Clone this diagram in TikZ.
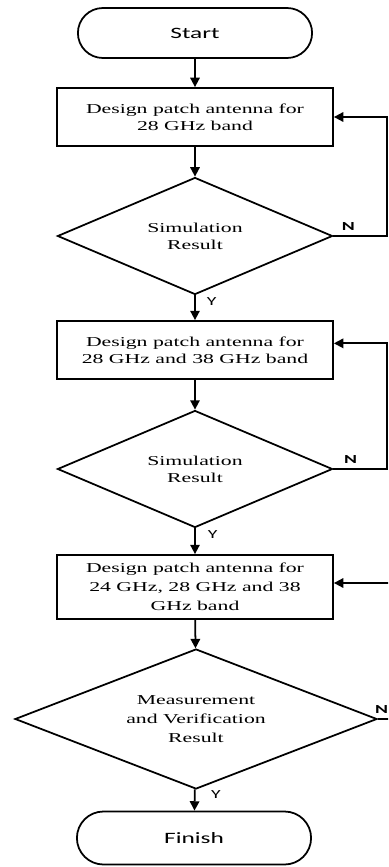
\documentclass[tikz,border=0pt]{standalone}
\usepackage{fontspec}
\setmainfont{Liberation Serif}[FakeStretch=1.6]
\newfontfamily\sanslabel{Carlito}[FakeStretch=1.6]
\usetikzlibrary{shapes.geometric,shapes.misc,arrows.meta}

\tikzset{
  terminal/.style={draw, line width=1.5pt, rounded rectangle, minimum width=7.26cm, minimum height=1.5cm, font=\sanslabel\fontsize{13.5}{15}\selectfont},
  procbox/.style={draw, line width=1.5pt, rectangle, minimum width=8.28cm, minimum height=1.74cm, align=center, font=\fontsize{11.6}{14.4}\selectfont},
  decision/.style={draw, line width=1.5pt, diamond, aspect=2.4, inner sep=0pt, minimum width=8.25cm, minimum height=3.51cm, align=center, font=\fontsize{11.6}{14.4}\selectfont},
  flow/.style={line width=1.5pt, -{Triangle[length=8pt,width=8pt]}},
  yn/.style={font=\sanslabel\fontsize{10.5}{12}\selectfont},
  nolabel/.style={font=\sanslabel\bfseries\fontsize{10.5}{12}\selectfont}
}

\begin{document}
\begin{tikzpicture}[x=0.03cm, y=-0.03cm]
    \path[use as bounding box, fill=white] (0,0) rectangle (388,867);
    \clip (0,0) rectangle (388,867);

    % Steps
    \node[terminal] (st) at (195,33) {Start};
    \node[procbox] (dp1) at (195,117) {Design patch antenna for\\28 GHz band};
    \node[decision] (sim1) at (195,236) {Simulation\\Result};
    \node[procbox] (dp2) at (195,350) {Design patch antenna for\\28 GHz and 38 GHz band};
    \node[decision] (sim2) at (195,469) {Simulation\\Result};
    \node[procbox, minimum height=1.92cm, font=\fontsize{11.6}{16}\selectfont] (dp3) at (195,587) {Design patch antenna for\\24 GHz, 28 GHz and 38\\GHz band};
    \node[decision, aspect=2.6, minimum width=10.86cm, minimum height=4.2cm, font=\fontsize{11.6}{16.5}\selectfont] (mv) at (196,719) {Measurement\\and Verification\\Result};
    \node[terminal, minimum height=1.59cm] (fin) at (194,838) {Finish};

    % Rails for the loops
    \coordinate (rail) at (387,0);
    \coordinate (rail3) at (398,0);

    % Main flow
    \draw[flow] (st) -- (dp1);
    \draw[flow] (dp1) -- (sim1);
    \draw[flow] (sim1) -- node[yn, pos=0.25, right=6pt] {Y} (dp2);
    \draw[flow] (dp2) -- (sim2);
    \draw[flow] (sim2) -- node[yn, pos=0.25, right=7pt] {Y} (dp3);
    \draw[flow] (dp3) -- (mv);
    \draw[flow] (mv) -- node[yn, pos=0.25, right=10pt] {Y} (fin);

    % Loops back
    \draw[flow] (sim1.east) -- node[nolabel, pos=0.28, above=1pt] {N} (sim1.east -| rail) |- (dp1.east);
    \draw[flow] (sim2.east) -- node[nolabel, pos=0.32, above=1pt] {N} (sim2.east -| rail) |- ([yshift=0.2cm]dp2.east);
    \draw[flow] (mv.east) -- node[nolabel, pos=0.3, above=1pt, xshift=-2pt] {N} (mv.east -| rail3) |- ([yshift=0.12cm]dp3.east);
\end{tikzpicture}
\end{document}
